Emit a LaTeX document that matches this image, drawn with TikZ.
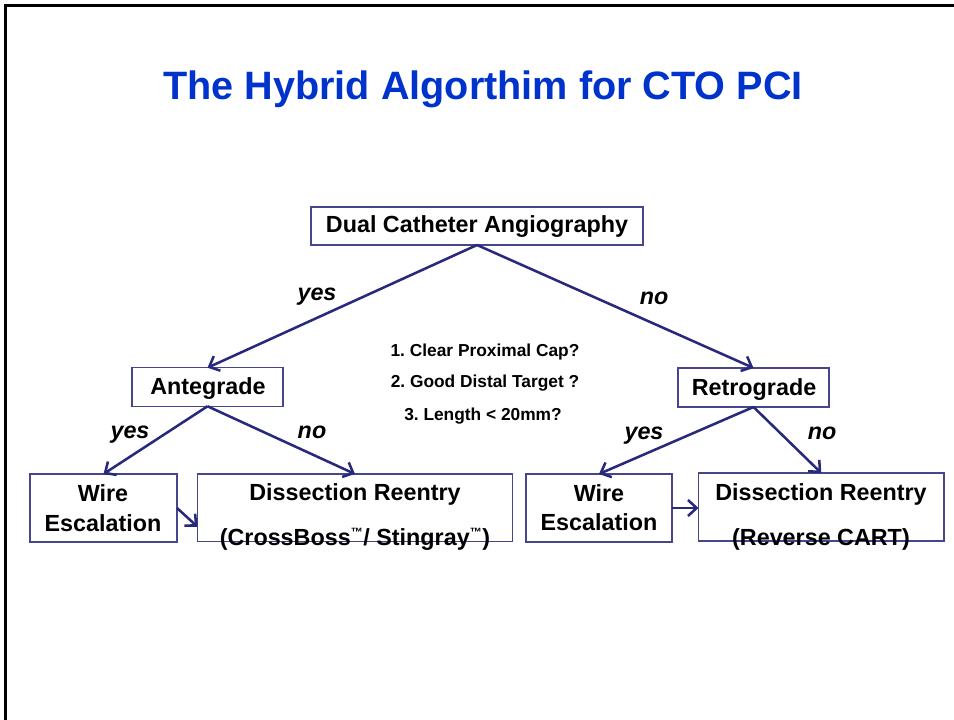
\documentclass[tikz,border=0pt]{standalone}
\usepackage{fontspec}
\setmainfont{Liberation Sans}
\usetikzlibrary{arrows.meta,calc}
\definecolor{navy}{RGB}{40,40,125}
\definecolor{boxline}{RGB}{70,70,140}
\definecolor{titleblue}{RGB}{0,51,204}
\tikzset{
  box/.style={draw=boxline,line width=0.8pt,rectangle,inner sep=0pt,outer sep=0pt},
  lbl/.style={anchor=base,inner sep=0pt,font=\fontsize{17.5}{21}\selectfont\bfseries},
  yn/.style={anchor=base,inner sep=0pt,font=\fontsize{17.5}{21}\selectfont\bfseries\itshape},
  qq/.style={anchor=base,inner sep=0pt,font=\fontsize{13}{15}\selectfont\bfseries},
  conn/.style={draw=navy,line width=1.9pt,-{Straight Barb[length=6.5pt,width=12pt]}},
}
\frenchspacing
\begin{document}
\begin{tikzpicture}[x=0.75pt,y=-0.75pt]
\useasboundingbox (0,0) rectangle (954,720);
\begin{scope}
\clip (0,0) rectangle (954,720);
\draw[black,line width=2.25pt] (5.5,730) -- (5.5,5.5) -- (970,5.5);
\end{scope}
% title
\node[anchor=base,inner sep=0pt,text=titleblue,font=\fontsize{29.7}{34}\selectfont\bfseries] (title) at (483,100) {The Hybrid Algorthim for CTO PCI};
% boxes
\node[box,minimum width=249pt,minimum height=28.5pt] (dual) at (477,226) {};
\node[box,minimum width=113.25pt,minimum height=28.9pt] (ante) at (207.5,387) {};
\node[box,minimum width=113.25pt,minimum height=29.25pt] (retro) at (753.5,387.5) {};
\node[box,minimum width=110.25pt,minimum height=51pt] (wl) at (103.5,508) {};
\node[box,minimum width=236.25pt,minimum height=50.6pt] (dl) at (355,507.75) {};
\node[box,minimum width=109.5pt,minimum height=51pt] (wr) at (599,508) {};
\node[box,minimum width=184.1pt,minimum height=51pt] (dr) at (821.25,507) {};
% box texts
\node[lbl] (tdual) at (477,233) {Dual Catheter Angiography};
\node[lbl] (tante) at (208,395) {Antegrade};
\node[lbl] (tretro) at (754,396) {Retrograde};
\node[lbl] (twl1) at (103,502) {Wire};
\node[lbl] (twl2) at (103,531) {Escalation};
\node[lbl] (twr1) at (599,502) {Wire};
\node[lbl] (twr2) at (599,530) {Escalation};
\node[lbl] (tdl1) at (355,500) {Dissection Reentry};
\node[lbl] (tdl2) at (355,545) {(CrossBoss\textsuperscript{\fontsize{9}{9}\selectfont ™}/ Stingray\textsuperscript{\fontsize{9}{9}\selectfont ™})};
\node[lbl] (tdr1) at (821,500) {Dissection Reentry};
\node[lbl] (tdr2) at (821,545) {(Reverse CART)};
% questions
\node[qq] (q1) at (485,357) {1. Clear Proximal Cap?};
\node[qq] (q2) at (485,388) {2. Good Distal Target ?};
\node[qq] (q3) at (483,421) {3. Length < 20mm?};
% yes / no labels
\node[yn] (y0) at (317,301) {yes};
\node[yn] (n0) at (654,305) {no};
\node[yn] (y1) at (130,439) {yes};
\node[yn] (n1) at (312,439) {no};
\node[yn] (y2) at (644,440) {yes};
\node[yn] (n2) at (822,440) {no};
% connectors
\draw[conn] (dual.south) -- (ante.north);
\draw[conn] (dual.south) -- (retro.north);
\draw[conn] (ante.south) -- (wl.north);
\draw[conn] (ante.south) -- (dl.north);
\draw[conn] (retro.south) -- (wr.north);
\draw[conn] (retro.south) -- (dr.north);
\draw[conn] (wl.east) -- ([yshift=-14.25pt]dl.west);
\draw[conn] (wr.east) -- (dr.west |- wr.east);
\end{tikzpicture}
\end{document}
